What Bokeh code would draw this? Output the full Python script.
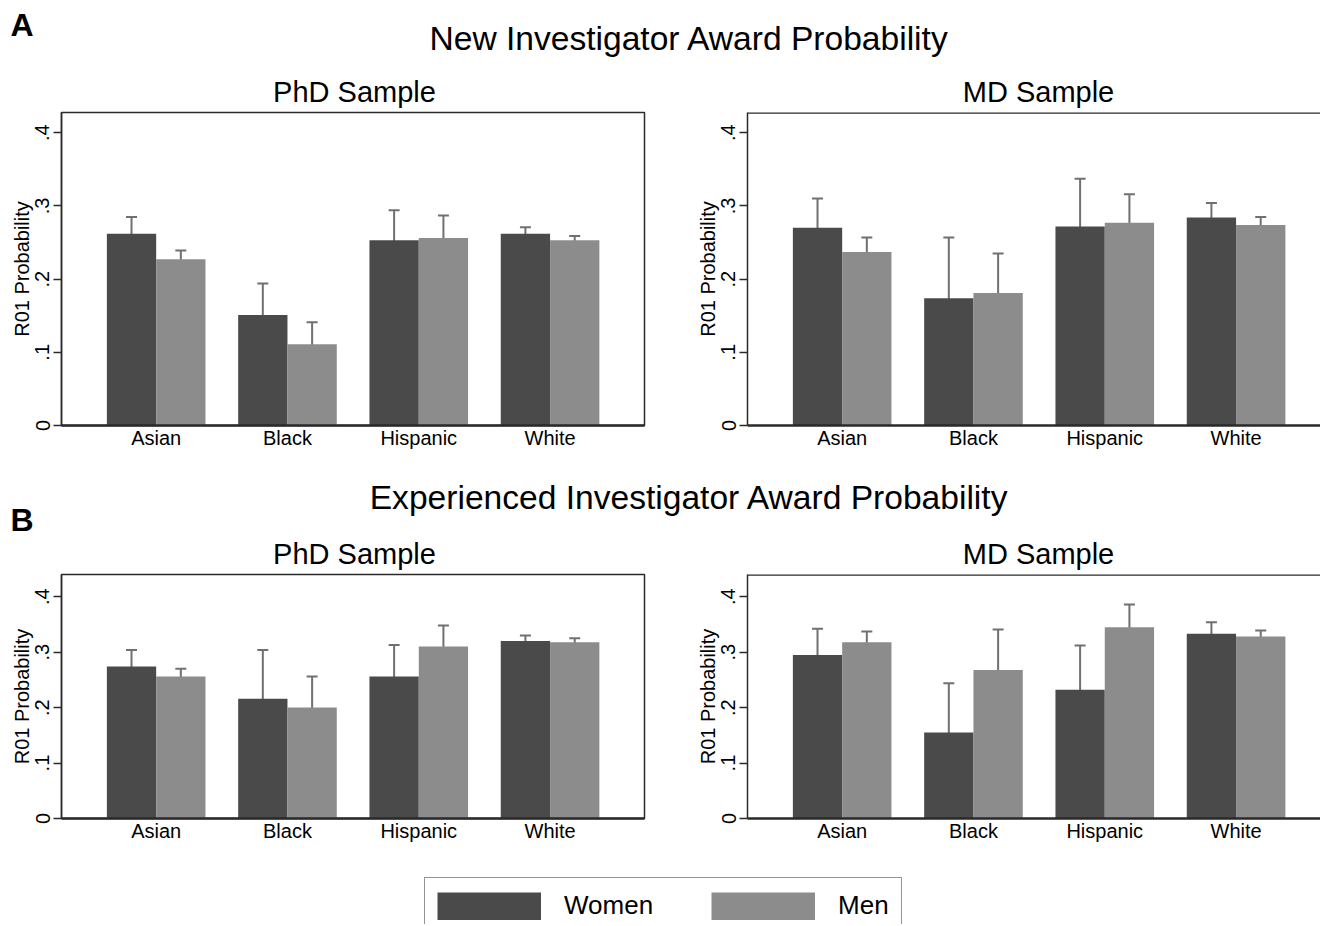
from bokeh.plotting import figure
from bokeh.layouts import column, row
from bokeh.models import (ColumnDataSource, Range1d, FixedTicker, Label, Legend, LegendItem,
                          Whisker, TeeHead, Span)
from bokeh.transform import dodge
from bokeh.embed import file_html
from bokeh.resources import INLINE

# ---------------- data ----------------
categories = ["Asian", "Black", "Hispanic", "White"]
series_names = ["Women", "Men"]
y_ticks = [0, 0.1, 0.2, 0.3, 0.4]
y_tick_labels = ["0", ".1", ".2", ".3", ".4"]

# A: New Investigator Award, PhD sample
new_phd_women = [0.262, 0.151, 0.253, 0.262]
new_phd_women_lo = [0.237, 0.107, 0.212, 0.252]
new_phd_women_hi = [0.285, 0.194, 0.294, 0.271]
new_phd_men = [0.227, 0.111, 0.256, 0.253]
new_phd_men_lo = [0.214, 0.078, 0.225, 0.245]
new_phd_men_hi = [0.239, 0.141, 0.287, 0.259]

# A: New Investigator Award, MD sample
new_md_women = [0.270, 0.174, 0.272, 0.284]
new_md_women_lo = [0.226, 0.088, 0.206, 0.262]
new_md_women_hi = [0.310, 0.257, 0.337, 0.304]
new_md_men = [0.237, 0.181, 0.277, 0.274]
new_md_men_lo = [0.217, 0.124, 0.236, 0.262]
new_md_men_hi = [0.257, 0.235, 0.316, 0.285]

# B: Experienced Investigator Award, PhD sample
exp_phd_women = [0.274, 0.216, 0.256, 0.320]
exp_phd_women_lo = [0.244, 0.123, 0.193, 0.307]
exp_phd_women_hi = [0.304, 0.304, 0.313, 0.330]
exp_phd_men = [0.256, 0.200, 0.310, 0.318]
exp_phd_men_lo = [0.242, 0.141, 0.274, 0.311]
exp_phd_men_hi = [0.270, 0.256, 0.348, 0.325]

# B: Experienced Investigator Award, MD sample
exp_md_women = [0.295, 0.155, 0.232, 0.333]
exp_md_women_lo = [0.244, 0.063, 0.149, 0.310]
exp_md_women_hi = [0.342, 0.244, 0.312, 0.354]
exp_md_men = [0.318, 0.268, 0.345, 0.328]
exp_md_men_lo = [0.293, 0.191, 0.300, 0.320]
exp_md_men_hi = [0.337, 0.341, 0.386, 0.339]

# ---------------- style ----------------
FONT = "Liberation Sans"
WOMEN_C = "#4a4a4a"
MEN_C = "#8c8c8c"
ERR_C = "#707070"
AX_C = "#2a2a2a"
BW = 0.3755
GROUP_PX = 131.3

LEFT_W, RIGHT_W = 668, 652
TOTAL_W = LEFT_W + RIGHT_W


def panel(women, wlo, whi, men, mlo, mhi, left, ymax, frame_h, b_bottom):
    if left:
        width, bl = LEFT_W, 61
        br = LEFT_W - bl - 583
    else:
        width, bl, br = RIGHT_W, 79, 0
    xr = Range1d(-0.721, -0.721 + (width - bl - br) / GROUP_PX)
    height = 2 + frame_h + b_bottom
    p = figure(width=width, height=height, x_range=xr, y_range=Range1d(0, ymax),
               output_backend="svg", toolbar_location=None,
               min_border_left=bl, min_border_right=br, min_border_top=2,
               min_border_bottom=b_bottom)
    p.grid.visible = False
    p.background_fill_color = "white"
    p.border_fill_color = "white"
    if left:
        p.outline_line_color = AX_C
        p.outline_line_width = 1.5
    else:
        p.outline_line_color = None
        p.add_layout(Span(location=ymax, dimension="width", line_color=AX_C, line_width=2.5))

    src = ColumnDataSource(dict(x=list(range(len(categories))), women=women, wlo=wlo, whi=whi,
                                men=men, mlo=mlo, mhi=mhi))
    p.vbar(x=dodge("x", -BW / 2, range=p.x_range), top="women", bottom=0, width=BW,
           source=src, fill_color=WOMEN_C, line_color=None)
    p.vbar(x=dodge("x", BW / 2, range=p.x_range), top="men", bottom=0, width=BW,
           source=src, fill_color=MEN_C, line_color=None)
    for off, lo, hi in ((-BW / 2, "wlo", "whi"), (BW / 2, "mlo", "mhi")):
        w = Whisker(source=src, base=dodge("x", off, range=p.x_range), lower=lo, upper=hi,
                    line_color=ERR_C, line_width=2,
                    upper_head=TeeHead(size=11, line_color=ERR_C, line_width=2),
                    lower_head=TeeHead(size=11, line_color=ERR_C, line_width=2))
        p.add_layout(w)

    # x axis
    xa = p.xaxis[0]
    xa.ticker = FixedTicker(ticks=list(range(len(categories))))
    xa.major_label_overrides = {i: c for i, c in enumerate(categories)}
    xa.major_tick_line_color = None
    xa.minor_tick_line_color = None
    xa.major_tick_out = 0
    xa.major_tick_in = 0
    xa.major_label_standoff = 1
    xa.major_label_text_font = FONT
    xa.major_label_text_font_size = "20px"
    xa.major_label_text_color = "black"
    xa.axis_line_color = AX_C
    xa.axis_line_width = 2.5

    # y axis
    ya = p.yaxis[0]
    ya.ticker = FixedTicker(ticks=y_ticks)
    ya.major_label_overrides = dict(zip(y_ticks, y_tick_labels))
    ya.major_label_orientation = "vertical"
    ya.minor_tick_line_color = None
    ya.major_tick_in = 0
    ya.major_tick_out = 8
    ya.major_tick_line_color = AX_C
    ya.major_tick_line_width = 1.5
    ya.major_label_standoff = 4
    ya.major_label_text_font = FONT
    ya.major_label_text_font_size = "20px"
    ya.major_label_text_color = "black"
    ya.axis_line_color = AX_C
    ya.axis_line_width = 1.5
    ya.axis_label = "R01 Probability"
    ya.axis_label_text_font = FONT
    ya.axis_label_text_font_size = "20px"
    ya.axis_label_text_font_style = "normal"
    ya.axis_label_text_color = "black"
    ya.axis_label_standoff = 0
    return p


def header(height, letter, letter_y, title, title_y, sub_y):
    h = figure(width=TOTAL_W, height=height, x_range=(0, 1), y_range=(0, 1),
               x_axis_type=None, y_axis_type=None, output_backend="svg",
               toolbar_location=None, min_border=0)
    h.grid.visible = False
    h.outline_line_color = None
    h.add_layout(Label(x=10, y=letter_y, x_units="screen", y_units="screen", text=letter,
                       text_font=FONT, text_font_size="32px", text_font_style="bold",
                       text_color="black", text_align="left", text_baseline="alphabetic"))
    h.add_layout(Label(x=689, y=title_y, x_units="screen", y_units="screen", text=title,
                       text_font=FONT, text_font_size="33.6px", text_color="black",
                       text_align="center", text_baseline="alphabetic"))
    for sx, t in ((354, "PhD Sample"), (1038, "MD Sample")):
        h.add_layout(Label(x=sx, y=sub_y, x_units="screen", y_units="screen", text=t,
                           text_font=FONT, text_font_size="29px", text_color="black",
                           text_align="center", text_baseline="alphabetic"))
    return h


hA = header(110, "A", 86, "New Investigator Award Probability", 72, 19)
pA1 = panel(new_phd_women, new_phd_women_lo, new_phd_women_hi,
            new_phd_men, new_phd_men_lo, new_phd_men_hi, True, 0.4276, 313, 30)
pA2 = panel(new_md_women, new_md_women_lo, new_md_women_hi,
            new_md_men, new_md_men_lo, new_md_men_hi, False, 0.4276, 313, 30)
hB = header(117, "B", 53, "Experienced Investigator Award Probability", 75, 19)
pB1 = panel(exp_phd_women, exp_phd_women_lo, exp_phd_women_hi,
            exp_phd_men, exp_phd_men_lo, exp_phd_men_hi, True, 0.44, 244, 32)
pB2 = panel(exp_md_women, exp_md_women_lo, exp_md_women_hi,
            exp_md_men, exp_md_men_lo, exp_md_men_hi, False, 0.44, 244, 32)

# legend strip (swatch renderers sit outside the visible range; thick lines give full-size swatches)
lg = figure(width=TOTAL_W, height=74, x_range=(0, 1), y_range=(0, 1),
            x_axis_type=None, y_axis_type=None, output_backend="svg",
            toolbar_location=None, min_border=0)
lg.grid.visible = False
lg.outline_line_color = None
rw = lg.line(x=[-5, -4], y=[-5, -5], line_width=28, line_color=WOMEN_C, line_cap="butt")
rm = lg.line(x=[-5, -4], y=[-5, -5], line_width=28, line_color=MEN_C, line_cap="butt")
legend = Legend(items=[LegendItem(label=series_names[0], renderers=[rw]),
                       LegendItem(label=series_names[1], renderers=[rm])],
                orientation="horizontal", location=(424, -10), margin=0, padding=12,
                spacing=58, label_standoff=23, glyph_width=104, glyph_height=28,
                label_width=0, label_text_font=FONT, label_text_font_size="26px",
                label_text_color="black", border_line_color=AX_C, border_line_width=1.5,
                background_fill_color="white", background_fill_alpha=1.0)
lg.add_layout(legend)

layout = column(hA, row(pA1, pA2), hB, row(pB1, pB2), lg)

with open("out.html", "w") as f:
    f.write(file_html(layout, INLINE))
